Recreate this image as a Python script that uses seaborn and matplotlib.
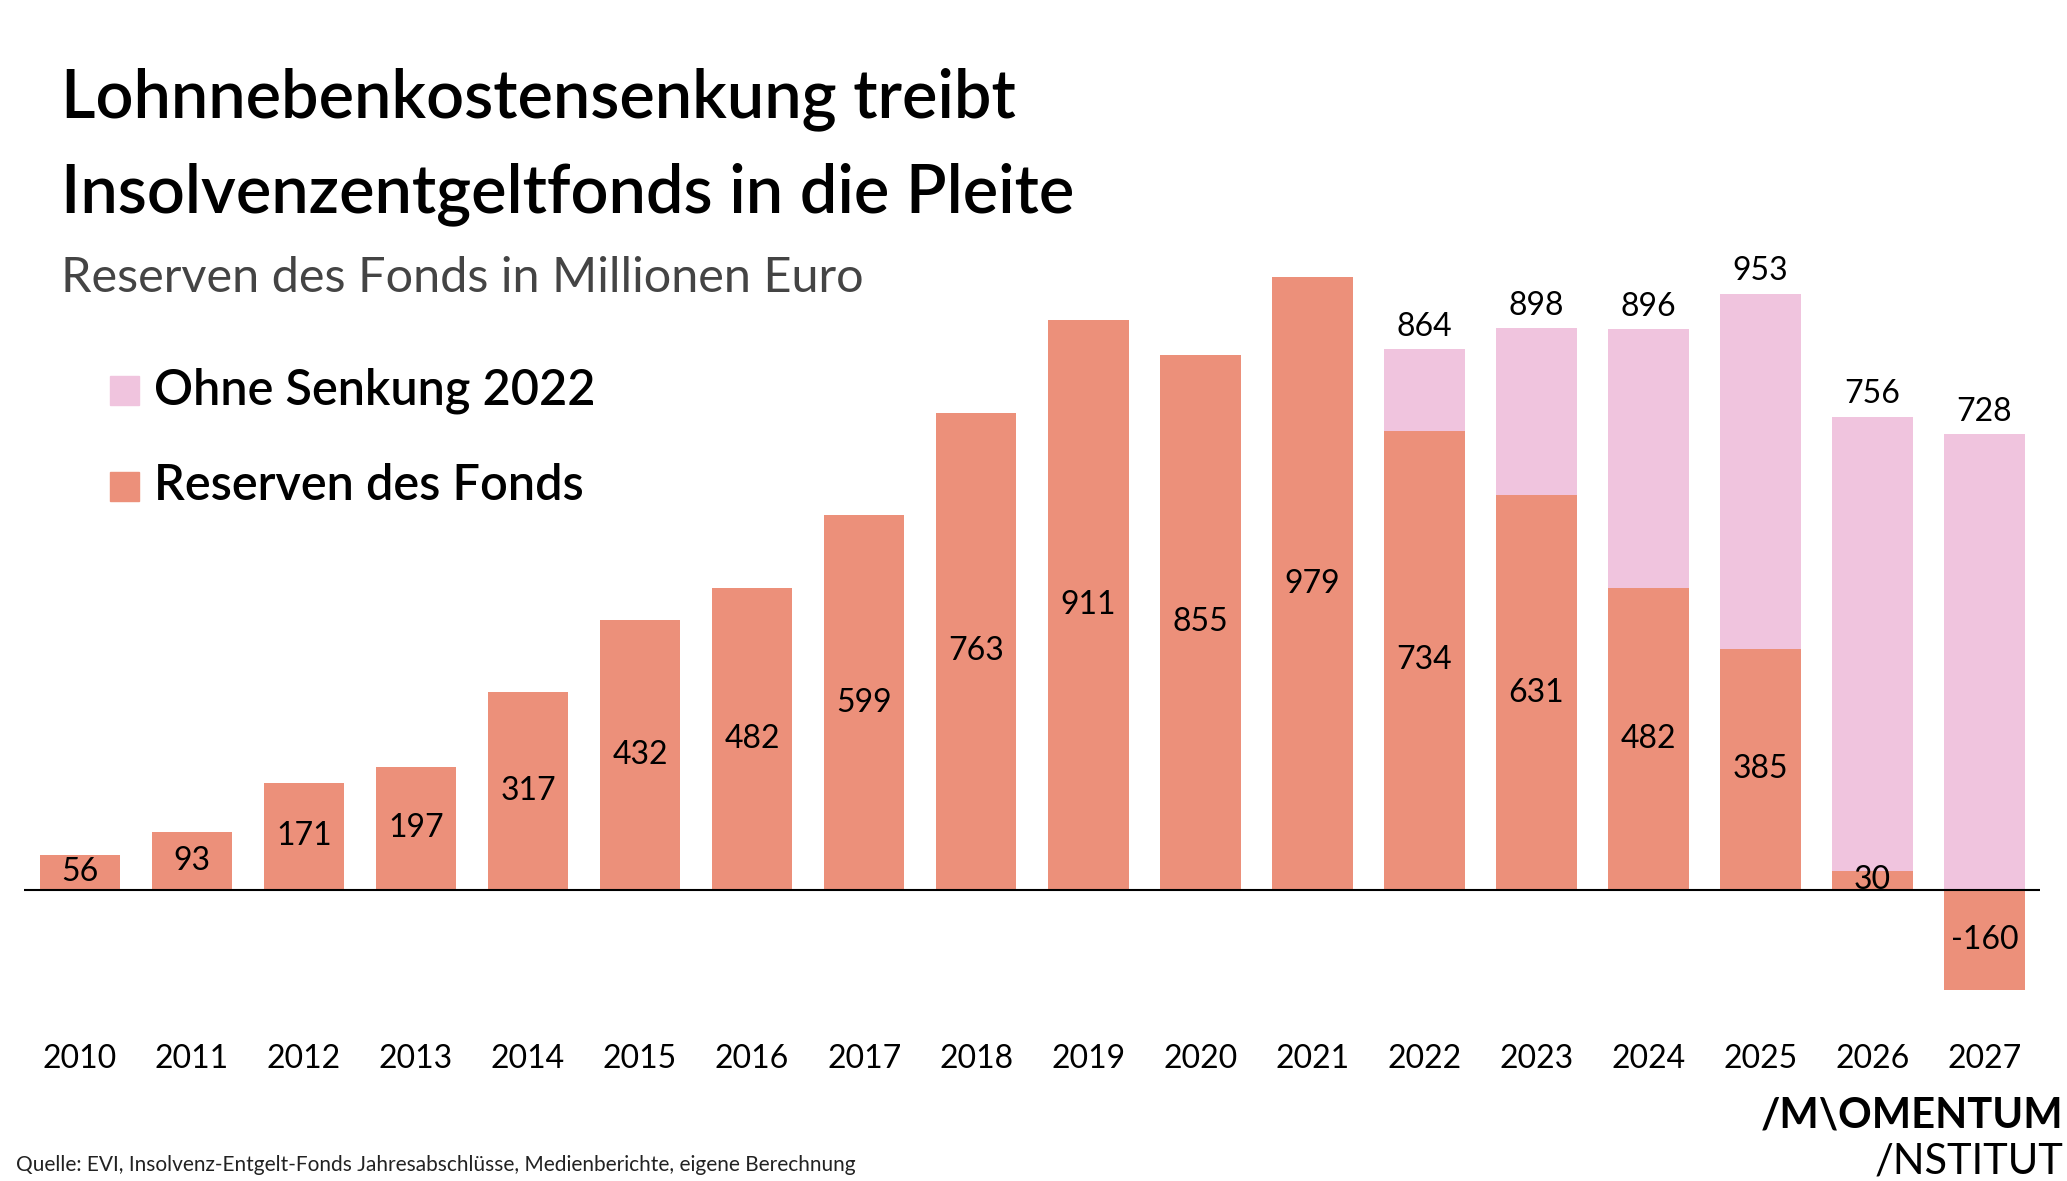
import matplotlib
matplotlib.use('Agg')
import matplotlib.pyplot as plt
import seaborn as sns
import pandas as pd

sns.set_theme(style='white')
plt.rcParams['font.family'] = ['Lato', 'DejaVu Sans']

SALMON = '#EC907A'
PINK = '#F0C4DE'

years = list(range(2010, 2028))
reserven = [56, 93, 171, 197, 317, 432, 482, 599, 763, 911, 855, 979,
            734, 631, 482, 385, 30, -160]
ohne = [None] * 12 + [864, 898, 896, 953, 756, 728]
df = pd.DataFrame({'Jahr': [str(y) for y in years], 'Reserven': reserven, 'Ohne': ohne})

W, H = 1556, 889  # reference layout units
fig = plt.figure(figsize=(20.67, 11.81), dpi=100)
ax = fig.add_axes([18 / W, 1 - 764 / H, (1536 - 18) / W, (764 - 199) / H])

sns.barplot(data=df, x='Jahr', y='Ohne', color=PINK, width=0.72, ax=ax,
            saturation=1, order=df['Jahr'], linewidth=0)
sns.barplot(data=df, x='Jahr', y='Reserven', color=SALMON, width=0.72, ax=ax,
            saturation=1, order=df['Jahr'], linewidth=0)
ax.set_xlim(-0.5, 17.5)
ax.set_ylim(-200, 1000)
ax.axhline(0, color='black', lw=1.5)
ax.axis('off')

for i, row in df.iterrows():
    v = row['Reserven']
    ax.text(i, v / 2, str(v), ha='center', va='center', fontsize=23, color='black')
    if pd.notna(row['Ohne']):
        ax.text(i, row['Ohne'] + 12, str(int(row['Ohne'])), ha='center', va='bottom',
                fontsize=23, color='black')
    ax.text(i, -270, row['Jahr'], ha='center', va='center', fontsize=23, color='black')

fig.text(46 / W, 1 - 75 / H, 'Lohnnebenkostensenkung treibt', fontsize=48,
         fontweight='semibold', va='center', color='black')
fig.text(46 / W, 1 - 146 / H, 'Insolvenzentgeltfonds in die Pleite', fontsize=48,
         fontweight='semibold', va='center', color='black')
fig.text(46 / W, 1 - 209 / H, 'Reserven des Fonds in Millionen Euro', fontsize=35,
         fontweight='normal', color='#444444', va='center')

for y, col, lab in [(294, PINK, 'Ohne Senkung 2022'), (366, SALMON, 'Reserven des Fonds')]:
    fig.patches.append(plt.Rectangle(((83) / W, 1 - (y + 11) / H), 22 / W, 22 / H,
                                     color=col, transform=fig.transFigure))
    fig.text(116 / W, 1 - y / H, lab, fontsize=35, fontweight='semibold', va='center',
             color='black')

fig.text(12 / W, 1 - 877 / H, 'Quelle: EVI, Insolvenz-Entgelt-Fonds Jahresabschlüsse, '
         'Medienberichte, eigene Berechnung', fontsize=15, va='center', color='#222222')
fig.text(1553 / W, 1 - 840 / H, '/M\\OMENTUM', fontsize=30, fontweight='bold',
         ha='right', va='center', color='black')
fig.text(1553 / W, 1 - 874 / H, '/NSTITUT', fontsize=30, ha='right', va='center',
         color='black')

fig.savefig('out.png', dpi=100)
